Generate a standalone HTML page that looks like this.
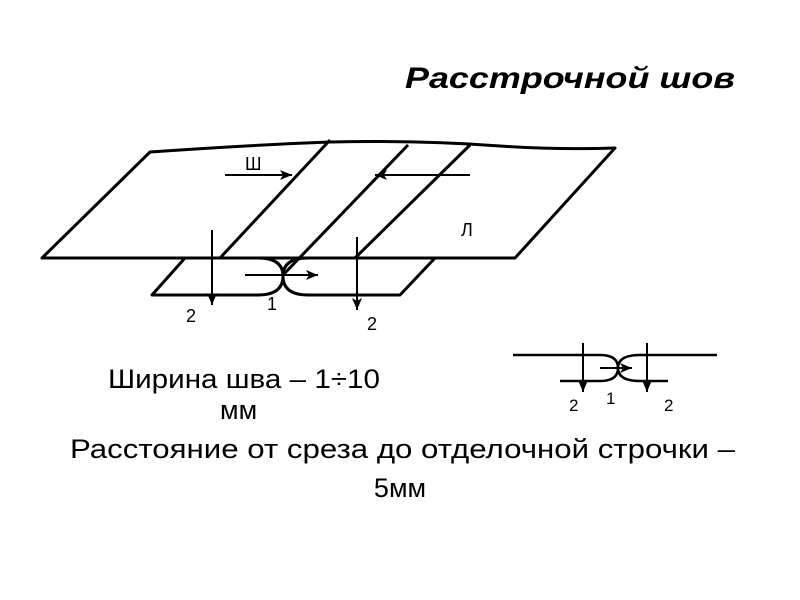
<!DOCTYPE html>
<html><head><meta charset="utf-8"><style>
body{margin:0;background:#fff;}
svg{display:block;font-family:"Liberation Sans",sans-serif;}
</style></head><body>
<svg width="800" height="600" viewBox="0 0 800 600">
<defs><marker id="a" viewBox="0 0 12 10" refX="12" refY="5" markerWidth="12" markerHeight="10" markerUnits="userSpaceOnUse" orient="auto"><path d="M0,0 L12,5 L0,10 L3,5 Z" fill="#000"/></marker></defs>
<text x="405" y="88" font-size="30" font-weight="bold" font-style="italic" textLength="330" lengthAdjust="spacingAndGlyphs">Расстрочной шов</text>
<g fill="none" stroke="#000" stroke-width="3" stroke-linejoin="round">
<path d="M150,152 Q250,145 330,142 Q420,140 500,146 Q560,150 615,148 L515,258 L42,258 Z"/>
<path d="M330,140 L220,258"/>
<path d="M408,145 L283,275"/>
<path d="M470,145 L355,258"/>
<path d="M185,258 L152,295 L258,295 Q283,295 283,276 Q283,258 258,258"/>
<path d="M435,258 L400,295 L308,295 Q283,295 283,276 Q283,258 308,258"/>
</g>
<g stroke="#000" stroke-width="2" fill="none">
<line x1="225" y1="175" x2="292" y2="175" marker-end="url(#a)"/>
<line x1="470" y1="175" x2="375" y2="175" marker-end="url(#a)"/>
<line x1="212" y1="230" x2="212" y2="305" marker-end="url(#a)"/>
<line x1="357" y1="237" x2="357" y2="310" marker-end="url(#a)"/>
<line x1="245" y1="275" x2="318" y2="275" marker-end="url(#a)"/>
</g>
<g font-size="18">
<text x="245" y="170">Ш</text>
<text x="461" y="236">Л</text>
<text x="186" y="322">2</text>
<text x="267" y="310">1</text>
<text x="367" y="330">2</text>
</g>
<g fill="none" stroke="#000" stroke-width="2.5">
<path d="M513,355 L600,355 Q618,355 618,368 Q618,381 600,381 L560,381"/>
<path d="M717,355 L640,355 Q618,355 618,368 Q618,381 640,381 L668,381"/>
</g>
<g stroke="#000" stroke-width="2" fill="none">
<line x1="583" y1="343" x2="583" y2="392" marker-end="url(#a)"/>
<line x1="647" y1="343" x2="647" y2="392" marker-end="url(#a)"/>
<line x1="600" y1="368" x2="632" y2="368" marker-end="url(#a)"/>
</g>
<g font-size="17">
<text x="569" y="411">2</text>
<text x="606" y="404">1</text>
<text x="664" y="411">2</text>
</g>
<g font-size="27">
<text x="108" y="388" textLength="272" lengthAdjust="spacingAndGlyphs">Ширина шва – 1÷10</text>
<text x="220" y="419">мм</text>
<text x="70" y="458" textLength="665" lengthAdjust="spacingAndGlyphs">Расстояние от среза до отделочной строчки –</text>
<text x="400" y="497" text-anchor="middle">5мм</text>
</g>
</svg>
</body></html>
